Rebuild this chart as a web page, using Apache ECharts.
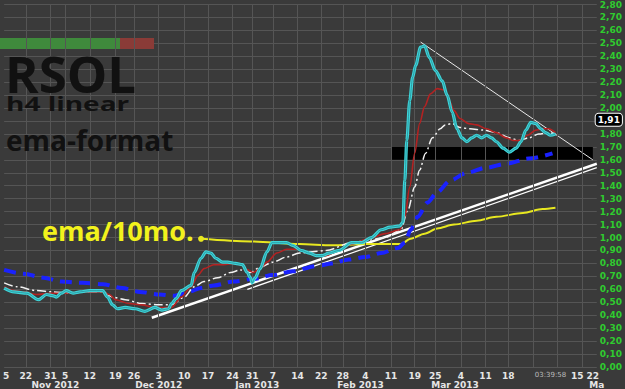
<!DOCTYPE html>
<html>
<head>
<meta charset="utf-8">
<script src="https://cdn.jsdelivr.net/npm/echarts@6/dist/echarts.min.js"></script>
<style>
html,body{margin:0;padding:0;background:#3a3a3a;}
#c{width:625px;height:389px;}
</style>
</head>
<body>
<div id="c"></div>
<script>
// x unit = trading day index (≈ one weekly gridline every 5 units)
const dayTicks = [[0.4,'5'],[4.4,'22'],[9.4,'31'],[12.4,'5'],[17.4,'12'],[22.6,'19'],[26.4,'26'],[31.4,'3'],[36.6,'10'],[41.4,'17'],[46.4,'24'],[50.4,'31'],[54.6,'7'],[59.6,'14'],[64.4,'22'],[68.8,'28'],[73.4,'4'],[78.6,'11'],[83.4,'19'],[87.6,'25'],[92.8,'4'],[97.8,'11'],[102.4,'18'],[111,'03:39:58'],[118,'15 22']];
const monthTicks = [[10.4,'Nov 2012'],[31.4,'Dec 2012'],[51.4,'Jan 2013'],[72.4,'Feb 2013'],[91.6,'Mar 2013'],[120.4,'Ma']];
const gridDays = [4.4,9.4,12.4,17.4,22.6,26.4,31.4,36.6,41.4,46.4,50.4,54.6,59.6,64.4,68.8,73.4,78.6,83.4,87.6,92.8,97.8,102.4,107.4,112.4,117.4];

const priceLine = [[0,0.61],[2,0.58],[4.6,0.57],[7,0.52],[8.6,0.56],[10,0.55],[10.6,0.54],[11.6,0.57],[12.6,0.59],[14,0.57],[15.4,0.58],[17.4,0.59],[20,0.59],[21,0.54],[22,0.48],[23,0.45],[24.6,0.46],[26.6,0.45],[28.6,0.43],[30.6,0.46],[32,0.44],[33.4,0.45],[34,0.49],[35,0.53],[36,0.59],[38,0.63],[38.6,0.73],[40,0.84],[41,0.89],[42,0.88],[43,0.84],[44.4,0.81],[45.4,0.81],[47,0.80],[48.4,0.79],[49.4,0.73],[50,0.69],[50.4,0.65],[51,0.69],[52,0.76],[53.4,0.89],[54.4,0.96],[56,0.96],[57.4,0.96],[58.6,0.94],[60.4,0.90],[62,0.88],[63.4,0.86],[64.6,0.86],[66,0.88],[68,0.90],[70.6,0.96],[72.6,0.96],[74.6,1.00],[76.6,1.06],[78.4,1.08],[80.4,1.09],[81,1.12],[81.4,1.44],[81.8,1.75],[82.4,2.06],[83,2.24],[83.6,2.33],[84.6,2.47],[85.4,2.48],[86.4,2.39],[87.6,2.29],[89,2.21],[90,2.10],[91,1.97],[92,1.84],[93,1.77],[94,1.74],[95,1.77],[96,1.79],[97,1.77],[98,1.79],[99,1.77],[100,1.74],[101.4,1.69],[102.6,1.66],[104,1.69],[105,1.74],[106,1.83],[107,1.89],[108,1.88],[109,1.84],[110,1.81],[111,1.79],[112,1.80]];

const emaRed = [[0,0.62],[2,0.59],[4,0.58],[6.6,0.56],[9.4,0.57],[12,0.57],[16,0.58],[20,0.58],[21.4,0.56],[22.6,0.52],[25.4,0.49],[28,0.48],[30.6,0.46],[32.6,0.46],[34,0.46],[36,0.54],[38,0.62],[39.4,0.71],[40.6,0.76],[42.6,0.79],[44.6,0.79],[46.6,0.80],[48,0.79],[49.4,0.75],[50.6,0.73],[52,0.76],[53.4,0.81],[55.4,0.88],[57.4,0.91],[59.4,0.91],[61.4,0.89],[63.4,0.86],[65.4,0.86],[68,0.90],[70.6,0.95],[74,0.99],[77.4,1.03],[80.4,1.06],[81.4,1.16],[82.4,1.39],[83.4,1.65],[84.4,1.88],[85.4,2.01],[86.6,2.11],[88,2.15],[89.4,2.14],[90.4,2.06],[91.4,1.98],[92.6,1.92],[94.4,1.88],[96,1.87],[98,1.84],[100,1.81],[102,1.77],[103.4,1.75],[104.6,1.75],[106.4,1.79],[108,1.83],[109.4,1.84],[110.6,1.84],[112,1.81]];

const emaWhite = [[0,0.65],[2.6,0.62],[6.6,0.59],[10,0.58],[13.4,0.57],[16,0.58],[20,0.58],[22,0.54],[24.6,0.52],[28,0.49],[31.4,0.48],[34,0.48],[36.6,0.54],[38.6,0.62],[40.6,0.66],[43.4,0.69],[46,0.73],[48,0.75],[50,0.73],[52,0.77],[54.6,0.81],[57.4,0.85],[60,0.88],[62.6,0.89],[65.4,0.90],[70.6,0.96],[74,0.98],[77.4,1.00],[80.6,1.06],[82,1.21],[83.4,1.39],[84.4,1.52],[85.6,1.65],[87,1.77],[88.6,1.84],[89.6,1.87],[91,1.88],[92.6,1.85],[94.6,1.84],[97.4,1.83],[100,1.81],[102.6,1.77],[104.6,1.75],[106.6,1.77],[108.6,1.80],[110.6,1.81],[112,1.80]];

const emaBlue = [[0,0.75],[4,0.72],[8,0.69],[11.6,0.66],[16,0.65],[20,0.64],[24,0.61],[27.6,0.58],[31.6,0.56],[34.6,0.55],[37.4,0.58],[40,0.61],[42.6,0.63],[46.6,0.66],[50.6,0.68],[54.6,0.71],[58.6,0.74],[63.4,0.78],[66.6,0.80],[70,0.83],[73.4,0.85],[76.6,0.88],[80,0.92],[81.4,0.96],[82.6,1.06],[84,1.16],[86,1.27],[88,1.35],[90.6,1.44],[94,1.50],[98,1.54],[102,1.57],[106.6,1.61],[111.4,1.65]];

const emaYellow = [[40,0.99],[50,0.97],[60,0.95],[66.6,0.94],[73.4,0.95],[80.6,0.95],[82.6,0.99],[85.4,1.03],[88,1.07],[91.4,1.10],[96,1.13],[100,1.16],[105.4,1.19],[109.4,1.22],[112,1.23]];

const supportThick = [[30,0.38],[120.4,1.57]];
const supportThin = [[49.4,0.60],[120.4,1.54]];
const resistance = [[84.6,2.51],[119.6,1.60]];
const band = [[78.8,1.60],[119.6,1.70]];
const lastValue = 1.91;

const dayMap = new Map(dayTicks);
const monthMap = new Map(monthTicks);
const fmt = v => v.toFixed(2).replace('.', ',');

const chart = echarts.init(document.getElementById('c'), null, {renderer: 'svg'});
const lineBase = {type: 'line', showSymbol: false, symbol: 'none', silent: true, animation: false, smooth: 0.3, smoothMonotone: 'x'};

chart.setOption({
  backgroundColor: '#3a3a3a',
  animation: false,
  grid: {left: 0, right: 23, top: 3, bottom: 22},
  xAxis: [{
    type: 'value', min: 0, max: 120.4,
    axisLine: {show: false}, axisTick: {show: false}, splitLine: {show: false},
    axisLabel: {
      customValues: dayTicks.map(d => d[0]),
      showMinLabel: true, showMaxLabel: true, hideOverlap: false,
      formatter: v => { const s = dayMap.get(v) || ''; return s.indexOf(':') > 0 ? '{t|' + s + '}' : s; },
      color: '#e6e6e6', fontSize: 9, fontWeight: 'bold', fontFamily: 'DejaVu Sans', margin: 4,
      rich: {t: {color: '#bbbbbb', fontSize: 7, fontWeight: 'normal', fontFamily: 'DejaVu Sans'}}
    }
  }, {
    type: 'value', min: 0, max: 120.4, position: 'bottom', offset: 9,
    axisLine: {show: false}, axisTick: {show: false}, splitLine: {show: false},
    axisLabel: {
      customValues: monthTicks.map(d => d[0]),
      showMinLabel: true, showMaxLabel: true, hideOverlap: false,
      formatter: v => monthMap.get(v) || '',
      color: '#e6e6e6', fontSize: 9, fontWeight: 'bold', fontFamily: 'DejaVu Sans', margin: 4
    }
  }],
  yAxis: {
    type: 'value', position: 'right', min: 0, max: 2.8, interval: 0.1,
    axisLine: {show: false}, axisTick: {show: false},
    splitLine: {lineStyle: {color: '#555555', width: 1}},
    axisLabel: {
      // the value nearest the last-price box is covered by it
      formatter: v => Math.abs(v - lastValue) < 0.05 ? '' : fmt(v),
      color: '#2fcc2f', fontSize: 9, fontWeight: 'bold', fontFamily: 'DejaVu Sans', margin: 3}
  },
  graphic: [
    {type: 'rect', shape: {x: 0, y: 38, width: 120, height: 11}, style: {fill: '#3f8a3c'}, z: 1},
    {type: 'rect', shape: {x: 120, y: 38, width: 34, height: 11}, style: {fill: '#8a3b37'}, z: 1},
    {type: 'text', x: 5, y: 49, scaleX: 1.02, style: {text: 'RSOL', font: 'bold 50px "Open Sans"', fill: '#111111'}, z: 10},
    {type: 'text', x: 6, y: 93, scaleY: 0.72, style: {text: 'h4 linear', font: 'bold 28px "Open Sans"', fill: '#111111'}, z: 10},
    {type: 'text', x: 6, y: 126, style: {text: 'ema-format', font: 'bold 28px "Open Sans"', fill: '#111111'}, z: 10},
    {type: 'text', x: 42, y: 217, style: {text: 'ema/10mo.', font: 'bold 27px "Open Sans"', fill: '#f2f21c'}, z: 10}
  ],
  series: [
    Object.assign({}, lineBase, {
      name: 'grid', data: [], z: 1,
      markLine: {silent: true, symbol: 'none', label: {show: false},
        lineStyle: {color: '#555555', width: 1, type: 'solid'},
        data: gridDays.map(d => ({xAxis: d}))},
      markArea: {silent: true, itemStyle: {color: '#000000'},
        data: [[{xAxis: band[0][0], yAxis: band[0][1]}, {xAxis: band[1][0], yAxis: band[1][1]}]]}
    }),
    Object.assign({}, lineBase, {name: 'supportThin', data: supportThin, smooth: false, z: 3, lineStyle: {color: '#ffffff', width: 1.2}}),
    Object.assign({}, lineBase, {name: 'supportThick', data: supportThick, smooth: false, z: 3, lineStyle: {color: '#ffffff', width: 2.5}}),
    Object.assign({}, lineBase, {name: 'resistance', data: resistance, smooth: false, z: 3, lineStyle: {color: '#e8e8e8', width: 1}}),
    Object.assign({}, lineBase, {name: 'ema10mo', data: emaYellow, z: 4, lineStyle: {color: '#e8e820', width: 2},
      showSymbol: true, symbol: 'circle', symbolSize: (v, p) => p.dataIndex === 0 ? 6 : 0, itemStyle: {color: '#e8e820'}}),
    Object.assign({}, lineBase, {name: 'emaBlue', data: emaBlue, z: 4, lineStyle: {color: '#1a22ff', width: 4, type: [12, 7]}}),
    Object.assign({}, lineBase, {name: 'emaWhite', data: emaWhite, z: 5, lineStyle: {color: '#f2f2f2', width: 1.5, type: [9, 3, 2, 3]}}),
    Object.assign({}, lineBase, {name: 'emaRed', data: emaRed, z: 5, lineStyle: {color: '#b42222', width: 1.6}}),
    Object.assign({}, lineBase, {name: 'price', data: priceLine, z: 6, lineStyle: {color: '#3ed6da', width: 3.2},
      markPoint: {silent: true, symbol: 'rect', symbolSize: 1, itemStyle: {color: 'rgba(0,0,0,0)'},
        data: [{coord: [120.4, lastValue], value: lastValue}],
        label: {show: true, position: 'inside', offset: [12, 0], formatter: p => fmt(p.value),
          color: '#ffffff', fontSize: 9, fontWeight: 'bold', fontFamily: 'DejaVu Sans',
          backgroundColor: '#000000', borderColor: '#ffffff', borderWidth: 1, borderRadius: 3, padding: [2, 2, 1, 2]}}}),
    Object.assign({}, lineBase, {name: 'priceInner', data: priceLine, z: 7, lineStyle: {color: '#2a8e98', width: 0.8}})
  ]
});
</script>
</body>
</html>
